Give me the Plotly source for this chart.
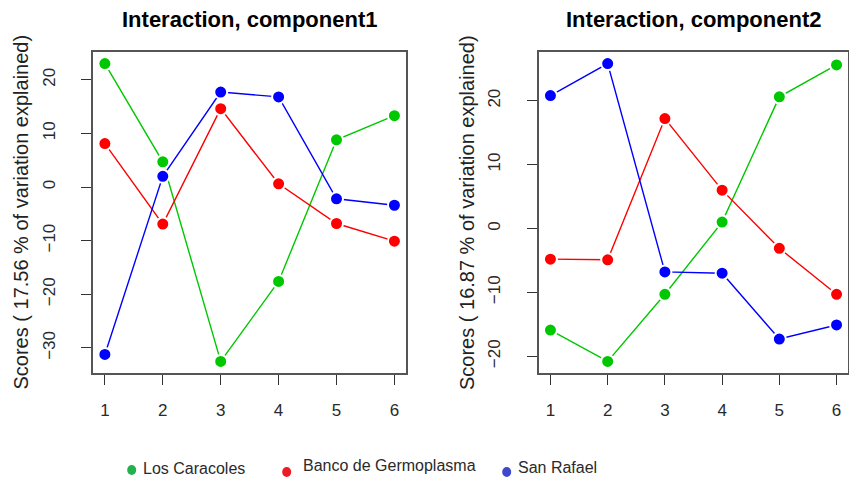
import plotly.graph_objects as go

# Environments (x positions 1..6) and the three populations
environments = [1, 2, 3, 4, 5, 6]
populations = ["Los Caracoles", "Banco de Germoplasma", "San Rafael"]
colors = ["#00C800", "#FF0000", "#0000FF"]
legend_colors = ["#22B14C", "#ED1C24", "#3F48CC"]

# Interaction scores, component 1
comp1_caracoles = [23.0, 4.7, -32.5, -17.6, 8.8, 13.3]
comp1_banco = [8.1, -6.9, 14.6, 0.6, -6.8, -10.1]
comp1_rafael = [-31.2, 2.0, 17.7, 16.8, -2.2, -3.4]

# Interaction scores, component 2
comp2_caracoles = [-15.9, -20.8, -10.3, 1.0, 20.6, 25.6]
comp2_banco = [-4.8, -4.9, 17.2, 6.0, -3.1, -10.3]
comp2_rafael = [20.8, 25.8, -6.8, -7.0, -17.3, -15.1]

titles = ["Interaction, component1", "Interaction, component2"]
ylabels = ["Scores ( 17.56 % of variation explained)",
           "Scores ( 16.87 % of variation explained)"]
yticks = [[-30, -20, -10, 0, 10, 20], [-20, -10, 0, 10, 20]]

W, H = 849, 484
panels = [
    {"series": [comp1_caracoles, comp1_banco, comp1_rafael],
     "xdom": (93.3, 406.0), "xa": "x", "ya": "y", "ylab_x": 20.0},
    {"series": [comp2_caracoles, comp2_banco, comp2_rafael],
     "xdom": (539.0, 848.0), "xa": "x2", "ya": "y2", "ylab_x": 466.5},
]
ydom = ((H - 373.3) / H, (H - 51.7) / H)

fig = go.Figure()
for p in panels:
    for vals, col in zip(p["series"], colors):
        fig.add_trace(go.Scatter(
            x=environments, y=vals, mode="lines+markers",
            xaxis=p["xa"], yaxis=p["ya"], showlegend=False,
            line=dict(color=col, width=1.4),
            marker=dict(color=col, size=13, line=dict(color="white", width=2)),
        ))

FAM = "Liberation Sans, Arial, sans-serif"
font_axis = dict(family=FAM, size=17, color="#2a2a2a")
layout = dict(
    width=W, height=H, margin=dict(l=0, r=0, t=0, b=0),
    paper_bgcolor="white", plot_bgcolor="white",
    font=font_axis,
)

for i, p in enumerate(panels):
    sfx = "" if i == 0 else "2"
    vals_all = [v for s in p["series"] for v in s]
    lo, hi = min(vals_all), max(vals_all)
    pad = 0.04 * (hi - lo)
    layout["xaxis" + sfx] = dict(
        domain=[p["xdom"][0] / W, p["xdom"][1] / W], anchor="y" + sfx,
        range=[0.8, 6.2], tickvals=environments, ticks="outside", ticklen=10,
        tickcolor="#333", tickwidth=1.2, showgrid=False, zeroline=False,
        showline=True, mirror=True, linecolor="#555", linewidth=1.8,
        tickfont=font_axis, ticklabelstandoff=10,
    )
    layout["yaxis" + sfx] = dict(
        domain=list(ydom), anchor="x" + sfx,
        range=[lo - pad, hi + pad], tickvals=yticks[i], ticks="outside", ticklen=10,
        tickcolor="#333", tickwidth=1.2, showgrid=False, zeroline=False,
        showline=True, mirror=True, linecolor="#555", linewidth=1.8,
        tickangle=-90, tickfont=font_axis, ticklabelstandoff=20,
    )

annotations = []
for i, p in enumerate(panels):
    cx = (p["xdom"][0] + p["xdom"][1]) / 2 / W
    annotations.append(dict(
        text="<b>" + titles[i] + "</b>", x=cx, y=1 - 19.5 / H, xref="paper", yref="paper",
        xanchor="center", yanchor="middle", showarrow=False,
        font=dict(family=FAM, size=22, color="black"),
    ))
    # vertical axis title
    annotations.append(dict(
        text=ylabels[i], x=p["ylab_x"] / W, y=1 - 212.5 / H, xref="paper", yref="paper",
        xanchor="center", yanchor="middle", showarrow=False, textangle=-90,
        font=dict(family=FAM, size=20, color="#222"),
    ))

# Legend row along the bottom
legend_dots = [(131.7, 470), (286.7, 472), (506.7, 472)]
legend_text = [(141.0, 468), (301.0, 465), (516.0, 467)]
shapes = []
for name, col, (dx, dy), (tx, ty) in zip(populations, legend_colors, legend_dots, legend_text):
    r = 4.5
    shapes.append(dict(type="circle", xref="paper", yref="paper",
                       x0=(dx - r) / W, x1=(dx + r) / W,
                       y0=1 - (dy + r + 0.5) / H, y1=1 - (dy - r - 0.5) / H,
                       fillcolor=col, line=dict(width=0)))
    annotations.append(dict(
        text=name, x=tx / W, y=1 - ty / H, xref="paper", yref="paper",
        xanchor="left", yanchor="middle", showarrow=False,
        font=dict(family=FAM, size=16, color="#2a2a2a"),
    ))

layout["annotations"] = annotations
layout["shapes"] = shapes
fig.update_layout(**layout)
fig.write_html("out.html")
